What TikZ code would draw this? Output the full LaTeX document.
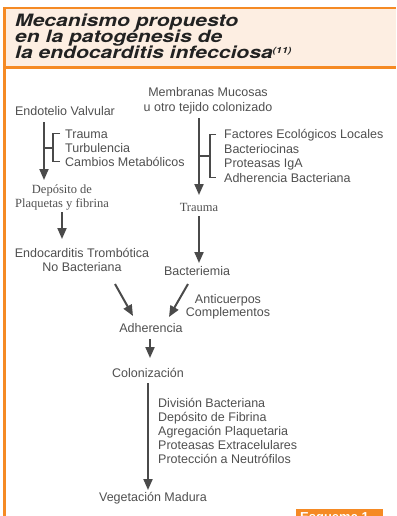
\documentclass[tikz,border=0pt]{standalone}
\usepackage{fontspec}
\setmainfont{Liberation Sans}
\newfontfamily\serifface{Liberation Serif}
\newfontfamily\titleface[FakeStretch=1.24]{TeX Gyre Heros}
\usetikzlibrary{arrows.meta}
\definecolor{orng}{HTML}{F58A24}
\definecolor{peach}{HTML}{FDEEE2}
\definecolor{txt}{HTML}{505050}
\definecolor{arrc}{HTML}{4A4A4A}
\definecolor{ttl}{HTML}{222222}
\begin{document}
\begin{tikzpicture}[x=1pt,y=-1pt,
  lbl/.style={inner sep=0pt, anchor=base, text=txt, font=\fontsize{12.5}{14}\selectfont},
  lblw/.style={lbl, anchor=base west},
  slbl/.style={lbl, font=\serifface\fontsize{12.5}{14}\selectfont},
  ttlline/.style={inner sep=0pt, anchor=base west, text=ttl, font=\titleface\bfseries\itshape\fontsize{17}{16}\selectfont},
  arrow/.style={draw=arrc, line width=2pt, -{Triangle[width=9pt,length=11pt]}},
  brk/.style={draw=arrc, line width=1.2pt},
]
\useasboundingbox (0,0) rectangle (396,516);
\clip (0,0) rectangle (396,516);
\fill[white] (0,0) rectangle (396,516);
% title band
\fill[peach] (3,7) rectangle (396,69);
\fill[orng] (3,7) rectangle (396,9.5);
\fill[orng] (3,66.5) rectangle (396,69);
\fill[orng] (3,7) rectangle (5.5,516);
\node[ttlline] (t1) at (15,27) {Mecanismo propuesto};
\node[ttlline] (t2) at (15,43) {en la patogénesis de};
\node[ttlline] (t3) at (15,59) {la endocarditis infecciosa{\fontsize{8.5}{9}\selectfont\raisebox{5.5pt}{(11)}}};

% left column
\node[lbl] (endo) at (65,115) {Endotelio Valvular};
\node[lblw] (l1) at (65,138) {Trauma};
\node[lblw] (l2) at (65,152) {Turbulencia};
\node[lblw] (l3) at (65,166) {Cambios Metabólicos};
\node[slbl] (dep1) at (62,193) {Depósito de};
\node[slbl] (dep2) at (62,207.5) {Plaquetas y fibrina};
\node[lbl] (etnb1) at (82,257) {Endocarditis Trombótica};
\node[lbl] (etnb2) at (82,271) {No Bacteriana};

% right column
\node[lbl] (mem1) at (208,97) {Membranas Mucosas};
\node[lbl] (mem2) at (208,111) {u otro tejido colonizado};
\node[lblw] (r1) at (224,139) {Factores Ecológicos Locales};
\node[lblw] (r2) at (224,153.3) {Bacteriocinas};
\node[lblw] (r3) at (224,167.6) {Proteasas IgA};
\node[lblw] (r4) at (224,182) {Adherencia Bacteriana};
\node[slbl] (trau) at (199,211) {Trauma};
\node[lbl] (bact) at (197,275.5) {Bacteriemia};
\node[lbl] (anti1) at (228,303) {Anticuerpos};
\node[lbl] (anti2) at (228,316.5) {Complementos};

% centre column
\node[lbl] (adh) at (151,332) {Adherencia};
\node[lbl] (colo) at (148,377.5) {Colonización};
\node[lblw] (c1) at (158,407.5) {División Bacteriana};
\node[lblw] (c2) at (158,421.5) {Depósito de Fibrina};
\node[lblw] (c3) at (158,435.5) {Agregación Plaquetaria};
\node[lblw] (c4) at (158,449.5) {Proteasas Extracelulares};
\node[lblw] (c5) at (158,463.5) {Protección a Neutrófilos};
\node[lbl] (veg) at (153,501) {Vegetación Madura};

% arrow end points
\coordinate (a1s) at (44,122);  \coordinate (a1e) at (44,180);
\coordinate (a2s) at (62,212);  \coordinate (a2e) at (62,239);
\coordinate (a3s) at (199,118); \coordinate (a3e) at (199,195);
\coordinate (a4s) at (199,216); \coordinate (a4e) at (199,263);
\coordinate (a5s) at (115,284); \coordinate (a5e) at (133,316);
\coordinate (a6s) at (188,284); \coordinate (a6e) at (169,317);
\coordinate (a7s) at (150,339); \coordinate (a7e) at (150,358);
\coordinate (a8s) at (148,383); \coordinate (a8e) at (148,490);

\draw[arrow] (a1s) -- (a1e);
\draw[arrow] (a2s) -- (a2e);
\draw[arrow] (a3s) -- (a3e);
\draw[arrow] (a4s) -- (a4e);
\draw[arrow] (a5s) -- (a5e);
\draw[arrow] (a6s) -- (a6e);
\draw[arrow] (a7s) -- (a7e);
\draw[arrow] (a8s) -- (a8e);

% brackets
\draw[brk] (44,148) -- (53,148);
\draw[brk] (60,133.5) -- (53,133.5) -- (53,161.5) -- (60,161.5);
\draw[brk] (199,156) -- (210,156);
\draw[brk] (216,134.5) -- (210,134.5) -- (210,177.5) -- (216,177.5);

% tab
\fill[orng] (296,509) rectangle (383,516);
\node[inner sep=0pt, anchor=base west, text=white, font=\bfseries\fontsize{13}{13}\selectfont] (tab) at (300,521) {Esquema 1};
\end{tikzpicture}
\end{document}
